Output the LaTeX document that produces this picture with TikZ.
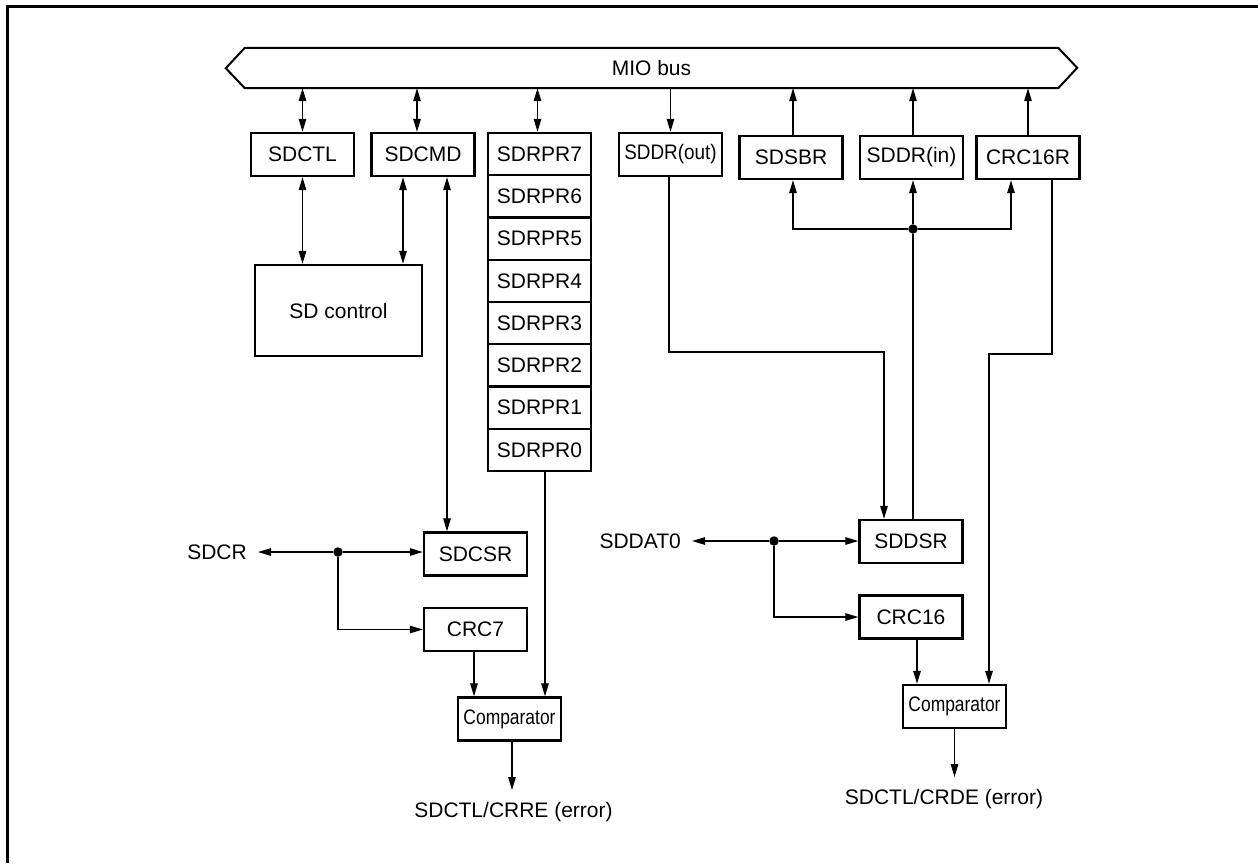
\documentclass[tikz,border=0pt]{standalone}
\usepackage{fontspec}
\setmainfont{Liberation Sans}
\usepackage{graphicx}
\usetikzlibrary{arrows.meta}

\tikzset{
  reg/.style={draw, rectangle, line width=2.4pt, inner sep=0pt,
    minimum width=103pt, minimum height=43pt, font=\fontsize{21}{25}\selectfont},
  lbl/.style={inner xsep=11pt, inner ysep=0pt, font=\fontsize{21}{25}\selectfont},
  wire/.style={line width=1.3pt, -{Triangle[length=13pt,width=7.5pt]}},
  bwire/.style={line width=1.3pt, {Triangle[length=13pt,width=7.5pt]}-{Triangle[length=13pt,width=7.5pt]}},
  line/.style={line width=1.3pt},
  dot/.style={circle, fill, inner sep=0pt, minimum size=9.5pt}
}

\begin{document}
\begin{tikzpicture}[x=1pt,y=-1pt]

      \useasboundingbox (0,0) rectangle (1258,863);
      \draw[line width=2.7pt] (7.5,863) -- (7.5,6.5) -- (1258,6.5);

      % bus
      \node[inner sep=0pt, minimum width=813pt, minimum height=40pt,
            font=\fontsize{21}{25}\selectfont] (bus) at (651.5,68) {MIO bus};
      \draw[line width=2pt, line join=miter]
        (bus.north west) -- (bus.north east) -- ++(19,20) -- (bus.south east)
        -- (bus.south west) -- ++(-19,-20) -- cycle;

      \begin{scope}[every node/.style={reg}]
        \node (sdctl)   at (302.5,154.5) {SDCTL};
        \node (sdcmd)   at (423,154.5)   {SDCMD};
        \node (sddrout) at (670.5,154.5) {\scalebox{0.9}[1]{SDDR(out)}};
        \node (sdsbr)   at (791,157.5)   {SDSBR};
        \node (sddrin)  at (911.5,157.5) {SDDR(in)};
        \node (crcr)    at (1028,157.5)  {CRC16R};
        \node[minimum width=167pt, minimum height=91pt] (sdctrl) at (338.5,310.5) {SD control};
        \node (sdcsr)   at (475.5,554)   {SDCSR};
        \node (crc7)    at (475.5,629.5) {CRC7};
        \node (cmp1)    at (509.5,719)   {\scalebox{0.83}[1]{Comparator}};
        \node (sddsr)   at (911,541.5)   {SDDSR};
        \node (crc16)   at (911,617)     {CRC16};
        \node (cmp2)    at (954.5,706.5) {\scalebox{0.83}[1]{Comparator}};
      \end{scope}

      \begin{scope}[every node/.style={reg, minimum height=42.25pt}]
        \node (r7) at (539.5,154.1) {SDRPR7};
        \node (r6) at (539.5,196.4) {SDRPR6};
        \node (r5) at (539.5,238.6) {SDRPR5};
        \node (r4) at (539.5,280.9) {SDRPR4};
        \node (r3) at (539.5,323.1) {SDRPR3};
        \node (r2) at (539.5,365.4) {SDRPR2};
        \node (r1) at (539.5,407.6) {SDRPR1};
        \node (r0) at (539.5,449.9) {SDRPR0};
      \end{scope}

      \begin{scope}[every node/.style={lbl}]
        \node[anchor=east] (sdcr)   at (258,552) {SDCR};
        \node[anchor=east] (sddat0) at (692,541) {SDDAT0};
        \node[inner ysep=12pt] (err1) at (513.5,812) {SDCTL/CRRE (error)};
        \node[inner ysep=12pt] (err2) at (944,799)   {SDCTL/CRDE (error)};
      \end{scope}

      \node[dot] (j1) at (338,552) {};
      \node[dot] (j2) at (774,541) {};
      \node[dot] (j3) at (913,229) {};

      \coordinate (outdn) at ([xshift=-1.5pt]sddrout.south);
      \coordinate (bendo) at (884,352);
      \coordinate (crcdn) at ([xshift=24pt]crcr.south);
      \coordinate (bendc) at (989,354);

      % to and from the bus
      \path (sdctl.north) edge[bwire] (sdctl.north |- bus.south);
      \path ([xshift=-6pt]sdcmd.north) edge[bwire] ([xshift=-6pt]sdcmd.north |- bus.south);
      \path ([xshift=-2pt]r7.north) edge[bwire] ([xshift=-2pt]r7.north |- bus.south);
      \path (sddrout.north |- bus.south) edge[wire] (sddrout.north);
      \path ([xshift=2pt]sdsbr.north) edge[wire] ([xshift=2pt]sdsbr.north |- bus.south);
      \path ([xshift=1.5pt]sddrin.north) edge[wire] ([xshift=1.5pt]sddrin.north |- bus.south);
      \path (crcr.north) edge[wire] (crcr.north |- bus.south);

      % command side
      \path (sdctl.south) edge[bwire] (sdctl.south |- sdctrl.north);
      \path ([xshift=-20pt]sdcmd.south) edge[bwire] ([xshift=-20pt]sdcmd.south |- sdctrl.north);
      \path ([xshift=24pt]sdcmd.south) edge[bwire] ([xshift=24pt]sdcmd.south |- sdcsr.north);
      \path (j1) edge[wire] (sdcr.east);
      \path (j1) edge[wire] (j1 -| sdcsr.west);
      \draw[wire] (j1) |- (crc7.west);
      \path ([xshift=-1.5pt]crc7.south) edge[wire] ([xshift=-1.5pt]crc7.south |- cmp1.north);
      \path ([xshift=5.5pt]r0.south) edge[wire] ([xshift=5.5pt]r0.south |- cmp1.north);
      \path ([xshift=2.5pt]cmp1.south) edge[wire] ([xshift=2.5pt]cmp1.south |- err1.north);

      % data side
      \draw[wire] (outdn) |- (bendo) -- (bendo |- sddsr.north);
      \draw[line] ([xshift=2pt]sddsr.north) -- (j3);
      \path (j3) edge[wire] (j3 |- sddrin.south);
      \draw[wire] (j3) -| ([xshift=2pt]sdsbr.south);
      \draw[wire] (j3) -| ([xshift=-17pt]crcr.south);
      \draw[wire] (crcdn) |- (bendc) -- (bendc |- cmp2.north);
      \path (j2) edge[wire] (sddat0.east);
      \path (j2) edge[wire] (j2 -| sddsr.west);
      \draw[wire] (j2) |- (crc16.west);
      \path ([xshift=6pt]crc16.south) edge[wire] ([xshift=6pt]crc16.south |- cmp2.north);
      \path (cmp2.south) edge[wire] (cmp2.south |- err2.north);

    \end{tikzpicture}
\end{document}
